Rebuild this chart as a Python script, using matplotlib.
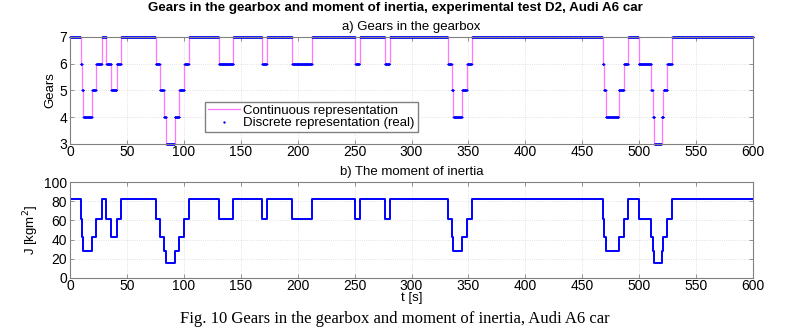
import numpy as np
import matplotlib.pyplot as plt

plt.rcParams['font.family'] = ['Liberation Sans', 'DejaVu Sans']

# gear changes: time [s] at which each gear starts
shift_t = [0, 9.4, 10.6, 11.8, 19.4, 22.9, 27.9, 32.0, 36.2, 41.0, 44.8,
           75.2, 79.0, 82.5, 84.6, 92.0, 96.0, 100.3, 104.4, 130.7, 143.3,
           168.7, 173.0, 195.2, 212.6, 250.5, 254.4, 276.6, 280.7, 331.9,
           335.4, 336.8, 344.4, 348.8, 352.9, 467.8, 469.0, 470.8, 481.9,
           486.5, 490.4, 499.4, 510.5, 512.0, 513.4, 519.6, 521.3, 524.6,
           529.0]
gears = [7, 6, 5, 4, 5, 6, 7, 6, 5, 6, 7,
         6, 5, 4, 3, 4, 5, 6, 7, 6, 7,
         6, 7, 6, 7, 6, 7, 6, 7, 6,
         5, 4, 5, 6, 7, 6, 5, 4, 5,
         6, 7, 6, 5, 4, 3, 4, 5, 6,
         7]
t_end = 600

# moment of inertia [kgm^2] for each gear
gear_list = [3, 4, 5, 6, 7]
inertia = [15.5, 27.5, 43.0, 61.0, 82.5]

t_step = np.append(shift_t, t_end)
g_step = np.append(gears, gears[-1])
J_step = np.interp(g_step, gear_list, inertia)

# sampled (real) gear signal
t_samp = np.arange(0, t_end + 0.2, 0.2)
g_samp = np.array(gears)[np.searchsorted(shift_t, t_samp, side='right') - 1]

fig = plt.figure(figsize=(7.9, 3.34), dpi=100)
ax1 = fig.add_axes([0.0886, 0.569, 0.8646, 0.321])
ax2 = fig.add_axes([0.0886, 0.1686, 0.8646, 0.2856])

ax1.step(t_step, g_step, where='post', color='#ff77ff', lw=0.9,
         label='Continuous representation', clip_on=False)
ax1.plot(t_samp, g_samp, '.', color='#0000ff', ms=2.6, mew=0,
         label='Discrete representation (real)', clip_on=False)
ax1.set_xlim(0, 600)
ax1.set_ylim(3, 7)
ax1.set_yticks([3, 4, 5, 6, 7])
ax1.set_ylabel('Gears', fontsize=9.5, labelpad=2)
ax1.set_title('a) Gears in the gearbox', fontsize=9.5, pad=5)
ax1.legend(loc='upper left', bbox_to_anchor=(0.198, 0.394), borderaxespad=0,
           fontsize=9.5, fancybox=False, edgecolor='#808080', framealpha=1,
           handlelength=2.4, handletextpad=0.3, borderpad=0.2,
           labelspacing=0.05, markerscale=1.3)

ax2.step(t_step, J_step, where='post', color='#0000ff', lw=1.4)
ax2.set_xlim(0, 600)
ax2.set_ylim(0, 100)
ax2.set_yticks([0, 20, 40, 60, 80, 100])
ax2.set_ylabel('J [kgm$^2$]', fontsize=9.5, labelpad=2)
ax2.set_xlabel('t [s]', fontsize=9.5, labelpad=-1)
ax2.set_title('b) The moment of inertia', fontsize=9.5, pad=5)

for ax in (ax1, ax2):
    ax.set_xticks(np.arange(0, 601, 50))
    ax.grid(True, color='#d8d8d8', ls=':', lw=0.6)
    ax.tick_params(direction='in', length=3, width=0.6, color='#808080',
                   labelsize=10, pad=1, top=True, right=True)
    ax.tick_params(axis='y', pad=2)
    for s in ax.spines.values():
        s.set_color('#808080')
        s.set_linewidth(0.8)

fig.text(0.5, 0.976, 'Gears in the gearbox and moment of inertia, '
         'experimental test D2, Audi A6 car',
         ha='center', va='center', fontsize=9.6, fontweight='bold')
fig.text(0.5, 0.045, 'Fig. 10 Gears in the gearbox and moment of inertia, Audi A6 car',
         ha='center', va='center', fontsize=12, family='Liberation Serif')

plt.savefig('out.png', dpi=100)
